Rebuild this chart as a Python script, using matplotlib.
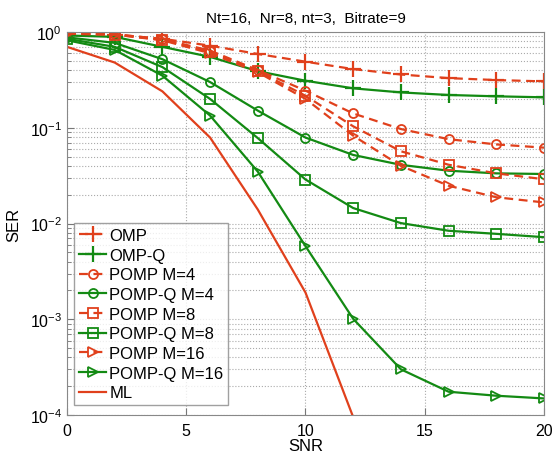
import numpy as np
import matplotlib.pyplot as plt
from matplotlib.ticker import LogLocator, NullFormatter

plt.rcParams['font.family'] = ['Liberation Sans', 'DejaVu Sans']

snr = [0, 2, 4, 6, 8, 10, 12, 14, 16, 18, 20]

omp = [0.96, 0.94, 0.85, 0.72, 0.59, 0.49, 0.41, 0.36, 0.33, 0.315, 0.305]
omp_q = [0.92, 0.89, 0.70, 0.55, 0.39, 0.31, 0.258, 0.234, 0.22, 0.213, 0.208]
pomp_4 = [0.96, 0.95, 0.84, 0.64, 0.40, 0.244, 0.141, 0.097, 0.076, 0.067, 0.062]
pomp_q_4 = [0.88, 0.77, 0.52, 0.30, 0.151, 0.079, 0.052, 0.041, 0.0356, 0.0334, 0.0329]
pomp_8 = [0.96, 0.94, 0.83, 0.62, 0.39, 0.216, 0.1035, 0.0568, 0.0411, 0.0334, 0.029]
pomp_q_8 = [0.85, 0.70, 0.43, 0.20, 0.078, 0.0288, 0.0145, 0.0101, 0.0084, 0.0078, 0.0072]
pomp_16 = [0.96, 0.94, 0.82, 0.60, 0.38, 0.20, 0.0826, 0.040, 0.0248, 0.0188, 0.0166]
pomp_q_16 = [0.82, 0.65, 0.35, 0.134, 0.0348, 0.0058, 0.00101, 0.0003, 0.000175, 0.000159, 0.000149]
ml_snr = [0, 2, 4, 6, 8, 10, 12]
ml = [0.70, 0.48, 0.24, 0.079, 0.014, 0.0019, 0.000095]

red = '#e0401c'
green = '#138a13'

fig = plt.figure(figsize=(5.55, 4.56), dpi=100)
ax = fig.add_axes([0.1207, 0.0877, 0.8595, 0.8399])

lw = 1.6
ms = 6.5
dash = (4, 2.5)
ax.semilogy(snr, omp, '--', dashes=dash, color=red, marker='+', ms=12, mew=1.6, lw=lw, label='OMP')
ax.semilogy(snr, omp_q, '-', color=green, marker='+', ms=12, mew=1.6, lw=lw, label='OMP-Q')
ax.semilogy(snr, pomp_4, '--', dashes=dash, color=red, marker='o', ms=ms, mfc='none', mew=1.3, lw=lw, label='POMP M=4')
ax.semilogy(snr, pomp_q_4, '-', color=green, marker='o', ms=ms, mfc='none', mew=1.3, lw=lw, label='POMP-Q M=4')
ax.semilogy(snr, pomp_8, '--', dashes=dash, color=red, marker='s', ms=ms, mfc='none', mew=1.3, lw=lw, label='POMP M=8')
ax.semilogy(snr, pomp_q_8, '-', color=green, marker='s', ms=ms, mfc='none', mew=1.3, lw=lw, label='POMP-Q M=8')
ax.semilogy(snr, pomp_16, '--', dashes=dash, color=red, marker='>', ms=ms, mfc='none', mew=1.3, lw=lw, label='POMP M=16')
ax.semilogy(snr, pomp_q_16, '-', color=green, marker='>', ms=ms, mfc='none', mew=1.3, lw=lw, label='POMP-Q M=16')
ax.semilogy(ml_snr, ml, '-', color=red, lw=lw, label='ML')

ax.set_xlim(0, 20)
ax.set_ylim(1e-4, 1)
ax.set_xticks([0, 5, 10, 15, 20])
ax.yaxis.set_major_locator(LogLocator(base=10, numticks=10))
ax.yaxis.set_minor_locator(LogLocator(base=10, subs=np.arange(2, 10), numticks=20))
ax.yaxis.set_minor_formatter(NullFormatter())
ax.tick_params(which='both', direction='in', labelsize=11.5, color='#777777')
ax.tick_params(which='major', length=5)
ax.tick_params(which='minor', length=3)
ax.tick_params(axis='x', pad=6)
ax.grid(True, which='major', ls=':', color='#aaaaaa', lw=0.8)
ax.grid(True, which='minor', axis='y', ls=':', color='#aaaaaa', lw=0.8)
for sp in ax.spines.values():
    sp.set_color('#888888')

ax.set_xlabel('SNR', fontsize=12, labelpad=0)
ax.set_ylabel('SER', fontsize=12, labelpad=6)
ax.set_title('Nt=16,  Nr=8, nt=3,  Bitrate=9', fontsize=11, pad=7)

leg = ax.legend(loc='lower left', bbox_to_anchor=(0.005, 0.012), fontsize=12,
                frameon=True, fancybox=False, handlelength=1.6, handletextpad=0.2,
                labelspacing=0.28, borderpad=0.3, borderaxespad=0.3)
leg.get_frame().set_edgecolor('#888888')
leg.get_frame().set_linewidth(1.0)

fig.savefig('out.png', dpi=100)
